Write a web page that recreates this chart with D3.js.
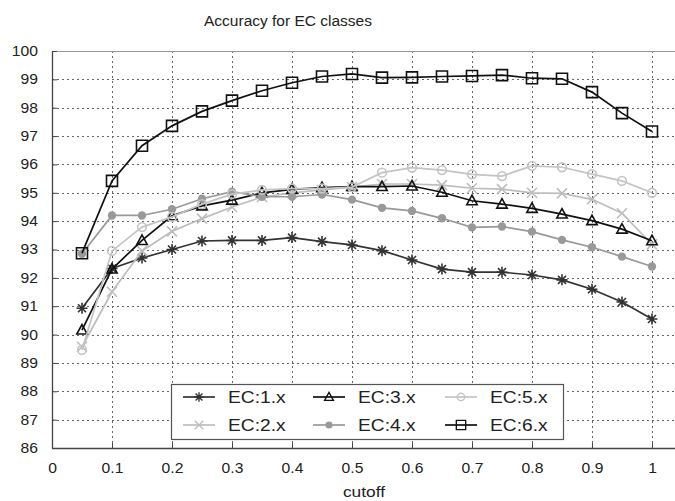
<!DOCTYPE html>
<html>
<head>
<meta charset="utf-8">
<script src="https://cdn.jsdelivr.net/npm/d3@7"></script>
<style>
  body { margin: 0; background: #fff; }
  text { font-family: "Liberation Sans", Arial, sans-serif; fill: #222; }
</style>
</head>
<body>
<div id="chart"></div>
<script>
const cutoffs = [0.05, 0.1, 0.15, 0.2, 0.25, 0.3, 0.35, 0.4, 0.45, 0.5,
                 0.55, 0.6, 0.65, 0.7, 0.75, 0.8, 0.85, 0.9, 0.95, 1];

const ec1 = [90.93, 92.33, 92.70, 93.00, 93.30, 93.32, 93.32, 93.42, 93.28, 93.16,
             92.96, 92.63, 92.31, 92.20, 92.20, 92.10, 91.93, 91.60, 91.15, 90.55];
const ec2 = [89.57, 91.51, 92.95, 93.64, 94.09, 94.50, 94.85, 95.00, 95.10, 95.20,
             95.31, 95.31, 95.27, 95.16, 95.13, 95.00, 94.98, 94.77, 94.28, 93.18];
const ec3 = [90.16, 92.31, 93.32, 94.19, 94.54, 94.74, 95.00, 95.12, 95.18, 95.22,
             95.22, 95.24, 95.02, 94.72, 94.60, 94.45, 94.25, 94.02, 93.72, 93.31];
const ec4 = [92.85, 94.20, 94.20, 94.42, 94.79, 95.04, 94.86, 94.86, 94.94, 94.76,
             94.47, 94.36, 94.10, 93.78, 93.81, 93.63, 93.34, 93.08, 92.75, 92.40];
const ec5 = [89.46, 92.95, 93.79, 94.15, 94.60, 94.95, 95.10, 95.15, 95.15, 95.20,
             95.71, 95.89, 95.80, 95.65, 95.59, 95.95, 95.90, 95.66, 95.42, 95.00];
const ec6 = [92.87, 95.42, 96.66, 97.36, 97.87, 98.25, 98.60, 98.88, 99.10, 99.19,
             99.06, 99.07, 99.10, 99.12, 99.15, 99.04, 99.02, 98.55, 97.81, 97.16];

const seriesNames = ["EC:1.x", "EC:2.x", "EC:3.x", "EC:4.x", "EC:5.x", "EC:6.x"];
const seriesValues = [ec1, ec2, ec3, ec4, ec5, ec6];
const xTicks = [0, 0.1, 0.2, 0.3, 0.4, 0.5, 0.6, 0.7, 0.8, 0.9, 1];
const yTicks = d3.range(86, 101);

// look of each series: colour and marker
const styles = [
  { color: "#333", marker: "star" },
  { color: "#bdbdbd", marker: "cross" },
  { color: "#111", marker: "triangle" },
  { color: "#999", marker: "dot" },
  { color: "#c4c4c4", marker: "circle" },
  { color: "#111", marker: "square" }
];

const width = 675, height = 501;
const margin = { top: 51, right: 1, bottom: 53, left: 52 };
const sx = 1.2; // the source picture is stretched sideways
const tx = 1.12;

const svg = d3.select("#chart").append("svg")
    .attr("width", width)
    .attr("height", height);

const x = d3.scaleLinear().domain([0, 1.0367]).range([margin.left, width - margin.right]);
const y = d3.scaleLinear().domain([86, 100]).range([height - margin.bottom, margin.top]);

// grid
const grid = svg.append("g").attr("stroke", "#666").attr("stroke-width", 1)
    .attr("stroke-dasharray", "2,3");
grid.selectAll(".gy").data(yTicks.slice(1, -1)).enter().append("line")
    .attr("x1", margin.left).attr("x2", width - margin.right)
    .attr("y1", d => Math.round(y(d)) + 0.5).attr("y2", d => Math.round(y(d)) + 0.5);
grid.selectAll(".gx").data(xTicks.slice(1)).enter().append("line")
    .attr("y1", margin.top).attr("y2", height - margin.bottom)
    .attr("x1", d => Math.round(x(d)) + 0.5).attr("x2", d => Math.round(x(d)) + 0.5);

// top frame line
svg.append("line")
    .attr("x1", margin.left).attr("x2", width)
    .attr("y1", margin.top + 0.5).attr("y2", margin.top + 0.5)
    .attr("stroke", "#999");

// axes
const xAxis = svg.append("g")
    .attr("transform", `translate(0,${height - margin.bottom})`)
    .call(d3.axisBottom(x).tickValues(xTicks).tickSize(-5).tickSizeOuter(0).tickPadding(15)
      .tickFormat(d => d === 0 ? "0" : d === 1 ? "1" : d3.format(".1f")(d)));
const yAxis = svg.append("g")
    .attr("transform", `translate(${margin.left},0)`)
    .call(d3.axisLeft(y).tickValues(yTicks).tickSize(-5).tickSizeOuter(0).tickPadding(14));

[xAxis, yAxis].forEach(a => {
  a.select(".domain").attr("stroke", "#444").attr("stroke-width", 1.3);
  a.selectAll(".tick line").attr("stroke", "#444");
  a.selectAll("text").style("font-size", "14px").attr("fill", "#222");
});
xAxis.select(".domain").attr("d", `M${margin.left},0.5H${width}`);
xAxis.selectAll(".tick text").attr("transform", `scale(${tx},1)`)
    .attr("x", 0);
yAxis.selectAll(".tick text")
    .attr("x", -14 / tx)
    .attr("transform", `scale(${tx},1)`);

// markers
function markerPath(type) {
  if (type === "star") return "M-5.5,0H5.5M0,-5.5V5.5M-4,-4L4,4M-4,4L4,-4";
  if (type === "cross") return "M-5,-5L5,5M-5,5L5,-5";
  if (type === "triangle") return "M0,-5.5L5.2,4H-5.2Z";
  if (type === "square") return "M-5.5,-5.5H5.5V5.5H-5.5Z";
  if (type === "circle") return d3.symbol(d3.symbolCircle, 60)();
  return d3.symbol(d3.symbolCircle, 55)();
}

function drawMarker(g, type, color) {
  const p = g.append("path").attr("d", markerPath(type))
      .attr("stroke", color).attr("stroke-width", 1.6);
  if (type === "dot") p.attr("fill", color).attr("stroke", "none");
  else p.attr("fill", "none");
}

const line = d3.line()
    .x((d, i) => x(cutoffs[i]))
    .y(d => y(d));

seriesValues.forEach((vals, s) => {
  const st = styles[s];
  const g = svg.append("g").attr("class", "series");
  g.append("path").datum(vals)
      .attr("d", line)
      .attr("fill", "none")
      .attr("stroke", st.color)
      .attr("stroke-width", 1.7);
  g.selectAll(".m").data(vals).enter().append("g")
      .attr("transform", (d, i) => `translate(${x(cutoffs[i])},${y(d)})`)
      .each(function() { drawMarker(d3.select(this), st.marker, st.color); });
});

// legend
const legend = svg.append("g");
legend.append("rect")
    .attr("x", 171.5).attr("y", 384.5).attr("width", 392).attr("height", 55)
    .attr("fill", "#fff").attr("stroke", "#555").attr("stroke-width", 1.2);
const legCols = [183, 313, 445];
const legRows = [397, 425];
seriesNames.forEach((name, s) => {
  const col = Math.floor(s / 2), row = s % 2;
  const lx = legCols[col], ly = legRows[row];
  const st = styles[s];
  const item = legend.append("g");
  item.append("line")
      .attr("x1", lx).attr("x2", lx + 32).attr("y1", ly).attr("y2", ly)
      .attr("stroke", st.color).attr("stroke-width", 1.7);
  const mg = item.append("g").attr("transform", `translate(${lx + 16},${ly}) scale(0.85)`);
  drawMarker(mg, st.marker, st.color);
  item.append("text")
      .attr("transform", `translate(${lx + 45},${ly + 6}) scale(${sx},1)`)
      .style("font-size", "16px")
      .text(name);
});

// titles
svg.append("text")
    .attr("transform", "translate(288,26)")
    .attr("text-anchor", "middle")
    .style("font-size", "15.5px")
    .text("Accuracy for EC classes");

svg.append("text")
    .attr("transform", `translate(364,497) scale(${tx},1)`)
    .attr("text-anchor", "middle")
    .style("font-size", "15.5px")
    .text("cutoff");
</script>
</body>
</html>
